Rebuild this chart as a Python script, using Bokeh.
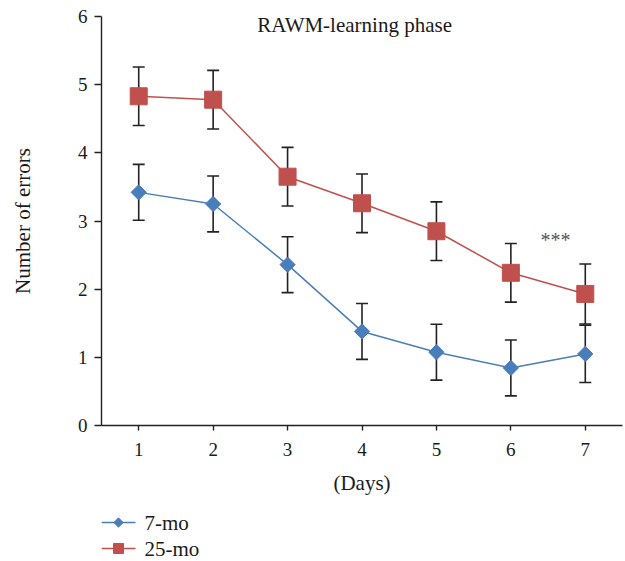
import numpy as np
from bokeh.plotting import figure
from bokeh.layouts import column
from bokeh.models import (ColumnDataSource, Whisker, TeeHead, FixedTicker, Label, Range1d)
from bokeh.core.properties import value
from bokeh.embed import file_html
from bokeh.resources import INLINE

days = [1, 2, 3, 4, 5, 6, 7]
mean_7mo = [3.42, 3.25, 2.36, 1.38, 1.075, 0.845, 1.05]
err_7mo = [0.41, 0.41, 0.41, 0.41, 0.41, 0.41, 0.42]
mean_25mo = [4.83, 4.78, 3.65, 3.26, 2.85, 2.24, 1.93]
err_25mo = [0.43, 0.43, 0.43, 0.43, 0.43, 0.43, 0.44]
x_ticks = [1, 2, 3, 4, 5, 6, 7]
y_ticks = [0, 1, 2, 3, 4, 5, 6]
series_names = ["7-mo", "25-mo"]

FONT = "Liberation Serif"
TXT = "#1a1a1a"
BLUE = "#4A7EBB"
RED = "#C0504D"
BAR = "#222222"

src7 = ColumnDataSource(dict(x=days, y=mean_7mo,
                             lo=[m - e for m, e in zip(mean_7mo, err_7mo)],
                             hi=[m + e for m, e in zip(mean_7mo, err_7mo)]))
src25 = ColumnDataSource(dict(x=days, y=mean_25mo,
                              lo=[m - e for m, e in zip(mean_25mo, err_25mo)],
                              hi=[m + e for m, e in zip(mean_25mo, err_25mo)]))

W = 625
p = figure(width=W, height=505, x_range=(0.5, 7.5), y_range=(0, 6),
           output_backend="svg", toolbar_location=None,
           min_border_left=101, min_border_right=3, min_border_top=16,
           min_border_bottom=80)
p.outline_line_color = None
p.grid.visible = False

for src in (src25, src7):
    w = Whisker(base="x", upper="hi", lower="lo", source=src, dimension="height",
                line_color=BAR, line_width=1.6,
                upper_head=TeeHead(size=12, line_color=BAR, line_width=1.6),
                lower_head=TeeHead(size=12, line_color=BAR, line_width=1.6))
    p.add_layout(w)

p.line("x", "y", source=src7, line_color=BLUE, line_width=1.5)
p.scatter("x", "y", source=src7, marker="square", angle=np.pi / 4, size=10.8,
          fill_color=BLUE, line_color=BLUE)
p.line("x", "y", source=src25, line_color=RED, line_width=1.5)
p.scatter("x", "y", source=src25, marker="square", size=17,
          fill_color=RED, line_color=RED)

for ax in (p.xaxis[0], p.yaxis[0]):
    ax.axis_line_color = BAR
    ax.axis_line_width = 1.4
    ax.major_tick_line_color = BAR
    ax.major_tick_line_width = 1.4
    ax.major_tick_in = 0
    ax.minor_tick_line_color = None
    ax.major_label_text_font = FONT
    ax.major_label_text_font_size = "19px"
    ax.major_label_text_color = TXT
    ax.axis_label_text_font = FONT
    ax.axis_label_text_font_size = "21px"
    ax.axis_label_text_font_style = "normal"
    ax.axis_label_text_color = TXT

p.xaxis.ticker = FixedTicker(ticks=x_ticks)
p.yaxis.ticker = FixedTicker(ticks=y_ticks)
p.xaxis.major_tick_out = 5
p.yaxis.major_tick_out = 7
p.xaxis.major_label_standoff = 12
p.yaxis.major_label_standoff = 7
p.xaxis.axis_label = "(Days)"
p.yaxis.axis_label = "Number of errors"
p.xaxis.axis_label_standoff = 12
p.yaxis.axis_label_standoff = 40

p.add_layout(Label(x=3.90, y=6, y_offset=-8, text="RAWM-learning phase",
                   text_font=FONT, text_font_size="21px", text_color=TXT,
                   text_align="center", text_baseline="alphabetic"))
p.add_layout(Label(x=6.6, y=2.72, text="***", text_font=FONT, text_font_size="20px",
                   text_color="#555555", text_align="center", text_baseline="alphabetic"))

# legend strip (screen-like coordinates, y down); its frame is aligned with the main frame
LH = 56
lg = figure(width=W, height=LH, x_range=Range1d(101, 622), y_range=Range1d(LH, 0),
            output_backend="svg", toolbar_location=None, min_border=0,
            min_border_left=101, min_border_right=3,
            x_axis_location=None, y_axis_location=None)
lg.outline_line_color = None
lg.grid.visible = False
row_y = [17, 43]
colors = [BLUE, RED]
lg.segment(x0=[101, 101], y0=row_y, x1=[135, 135], y1=row_y, line_color=colors, line_width=1.5)
lg.scatter(x=[118], y=[row_y[0]], marker="square", angle=np.pi / 4, size=6.6,
           fill_color=BLUE, line_color=BLUE)
lg.scatter(x=[118], y=[row_y[1]], marker="square", size=10,
           fill_color=RED, line_color=RED)
lg.text(x=[144, 144], y=row_y, text=series_names, text_font=value(FONT),
        text_font_size="21px", text_color=TXT, text_baseline="middle")

layout = column(p, lg, spacing=0)
open("out.html", "w").write(file_html(layout, INLINE))
